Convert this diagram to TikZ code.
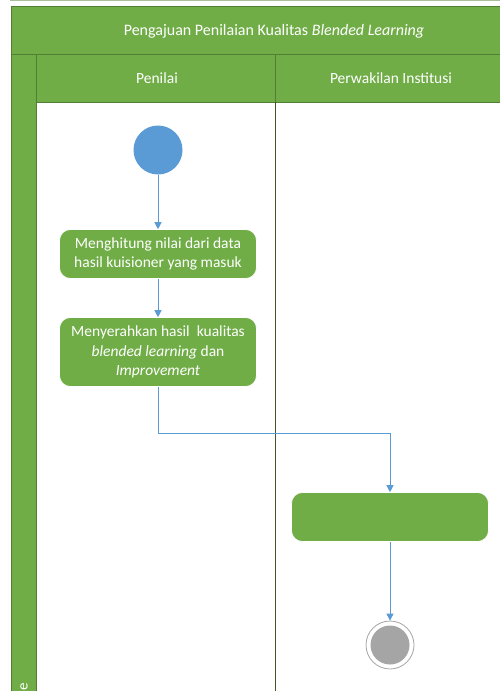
\documentclass[tikz,border=0pt]{standalone}
\usepackage{fontspec}
\setmainfont{Carlito}
\usetikzlibrary{arrows.meta,positioning,calc}
\definecolor{lanegreen}{HTML}{70AD47}
\definecolor{laneborder}{HTML}{507E32}
\definecolor{divline}{HTML}{3E5A24}
\definecolor{flowblue}{HTML}{5B9BD5}
\definecolor{endgray}{HTML}{A5A5A5}
\definecolor{topline}{HTML}{A9BFA0}
\tikzset{
  lanehead/.style={draw=laneborder,line width=0.8pt,fill=lanegreen,text=white,font=\fontsize{15.5}{18}\selectfont},
  actbox/.style={draw=white,line width=0.6pt,fill=lanegreen,rounded corners=11pt,text=white,align=center,
    minimum width=197pt,inner sep=1pt,font=\fontsize{15.5}{19.5}\selectfont},
  flow/.style={draw=flowblue,line width=0.9pt,-{Triangle[width=7pt,length=7pt]}},
  headtext/.style={text=white,font=\fontsize{15.5}{18}\selectfont,anchor=center,inner sep=0pt},
}
\begin{document}
\begin{tikzpicture}[x=1pt,y=-1pt]
\useasboundingbox (0,0) rectangle (500,691);
% top thin line
\draw[topline,line width=1pt] (10,0.5) -- (500,0.5);
% pool header
\node[lanehead,minimum width=530pt,minimum height=48pt,anchor=north west,inner sep=0pt] (pool) at (11,6) {};
\node[headtext,font=\fontsize{16}{18}\selectfont] (pooltitle) at (274,31)
  {Pengajuan Penilaian Kualitas \textit{Blended Learning}};
% left strip
\node[lanehead,minimum width=25pt,minimum height=640pt,anchor=north west,inner sep=0pt] (strip) at (11,54) {};
\node[text=white,rotate=90,font=\fontsize{15}{17}\selectfont,anchor=center] (striplabel) at (24,687) {e};
% lane headers
\node[lanehead,minimum width=239pt,minimum height=48pt,anchor=north west,inner sep=0pt] (lane1) at (36,54) {};
\node[headtext] (lane1t) at (157,78) {Penilai};
\node[lanehead,minimum width=260pt,minimum height=48pt,anchor=north west,inner sep=0pt] (lane2) at (275,54) {};
\node[headtext] (lane2t) at (391,78) {Perwakilan Institusi};
% lane divider
\coordinate (divtop) at (275,102);
\coordinate (divbot) at (275,692);
\draw[divline,line width=0.8pt] (divtop) -- (divbot);
% start
\node[circle,fill=flowblue,minimum size=49pt,inner sep=0pt] (start) at (158,150) {};
% activities
\node[actbox,minimum height=49pt] (a1) at (158,254) {Menghitung nilai dari data\\hasil kuisioner yang masuk};
\node[actbox,minimum height=69pt] (a2) at (158,352) {Menyerahkan hasil\ \ kualitas\\\textit{blended learning} dan\\\textit{Improvement}};
\node[actbox,minimum height=49pt] (a3) at (390,517) {};
% end
\node[circle,draw=endgray,line width=0.8pt,fill=white,minimum size=48pt,inner sep=0pt] (end) at (390,645) {};
\node[circle,fill=endgray,minimum size=39pt,inner sep=0pt] (endin) at (end.center) {};
% flows
\draw[flow] (start) -- (a1);
\draw[flow] (a1) -- (a2);
\coordinate (bend1) at (158,433);
\coordinate (bend2) at (390,433);
\draw[flow] (a2.south) -- (bend1) -- (bend2) -- (a3.north);
\draw[flow] (a3) -- (end);
\end{tikzpicture}
\end{document}
